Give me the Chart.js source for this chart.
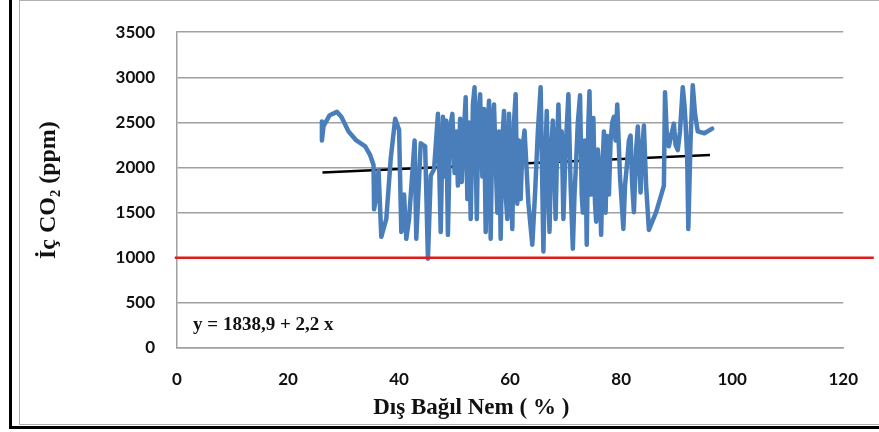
<!DOCTYPE html>
<html>
<head>
<meta charset="utf-8">
<script src="https://cdn.jsdelivr.net/npm/chart.js@4/dist/chart.umd.min.js"></script>
<style>
  html, body { margin: 0; padding: 0; background: #fff; }
  #wrap { position: relative; width: 879px; height: 432px; overflow: hidden; }
  #co2-chart { position: absolute; left: 0; top: 0; }
  .frame-gray { position: absolute; left: 19px; top: 0; width: 900px; height: 423px;
    border-left: 1px solid #b0b0b0; border-top: 1px solid #b0b0b0; border-bottom: 1px solid #b0b0b0; }
  .frame-black { position: absolute; left: 9px; top: -5px; width: 900px; height: 431px;
    border-left: 3px solid #000; border-bottom: 3px solid #000; }
</style>
</head>
<body>
<div id="wrap">
  <canvas id="co2-chart" width="879" height="432"></canvas>
  <div class="frame-gray"></div>
  <div class="frame-black"></div>
</div>
<script>
// dış bağıl nem (%) and iç CO2 (ppm) (same order, 10 per row)
const humidity = [
  26.1, 26.1, 26.4, 27.5, 28.8, 29.6, 30.9, 32.3, 33.9, 34.8,
  35.4, 35.5, 36.0, 36.3, 36.8, 37.7, 38.5, 39.3, 40.0, 40.4,
  40.9, 41.3, 41.8, 42.8, 43.1, 43.9, 44.7, 45.2, 45.7, 46.3,
  47.0, 47.5, 47.9, 48.2, 48.5, 48.8, 49.2, 49.6, 50.0, 50.3,
  50.6, 51.0, 51.3, 51.6, 52.0, 52.3, 52.6, 52.9, 53.3, 53.6,
  54.0, 54.3, 54.6, 55.0, 55.3, 55.6, 56.0, 56.2, 56.5, 56.8,
  57.1, 57.4, 57.7, 58.0, 58.3, 58.6, 58.9, 59.2, 59.5, 59.8,
  60.1, 60.4, 60.7, 61.0, 61.3, 61.6, 61.9, 62.2, 62.6, 63.3,
  64.0, 64.5, 65.0, 65.5, 66.0, 66.3, 66.6, 66.9, 67.1, 67.4,
  67.7, 68.0, 68.2, 68.5, 68.7, 69.0, 69.3, 69.6, 70.0, 70.5,
  70.9, 71.3, 71.6, 71.9, 72.2, 72.6, 72.9, 73.1, 73.4, 73.6,
  73.8, 74.1, 74.3, 74.6, 74.8, 75.0, 75.3, 75.5, 75.8, 76.1,
  76.4, 76.7, 76.9, 77.2, 77.5, 77.8, 78.1, 78.4, 78.7, 79.0,
  79.3, 79.8, 80.4, 80.7, 81.0, 81.4, 81.7, 82.0, 82.3, 82.7,
  83.0, 83.3, 83.5, 83.8, 84.1, 84.5, 85.0, 85.6, 86.3, 87.0,
  87.7, 87.9, 88.2, 88.6, 89.0, 89.5, 89.8, 90.2, 90.6, 91.1,
  91.4, 91.6, 91.9, 92.1, 92.5, 92.9, 93.3, 93.8, 95.0, 96.4
];
const co2 = [
  2510, 2300, 2460, 2580, 2617, 2563, 2400, 2300, 2235, 2137,
  2028, 1537, 1720, 1970, 1232, 1430, 2100, 2540, 2420, 1287,
  1700, 1210, 1430, 2300, 1210, 2268, 2235, 990, 1908, 1980,
  2595, 1287, 2563, 1900, 2520, 1254, 2450, 2595, 1940, 2400,
  1800, 2540, 1840, 2300, 2780, 1650, 2500, 1430, 2700, 2890,
  1430, 2600, 2813, 1900, 2650, 1287, 2500, 2740, 1210, 2450,
  2700, 2083, 1500, 2400, 1210, 2300, 2628, 1700, 1430, 2595,
  1900, 1320, 2500, 2813, 1600, 2300, 1650, 2200, 2410, 1600,
  1145, 1723, 2400, 2890, 1069, 2000, 2628, 1700, 1287, 2200,
  2520, 1900, 1430, 2300, 2700, 2083, 2400, 1430, 2200, 2813,
  1800, 1100, 1700, 2080, 2500, 2800, 1700, 1500, 2300, 2100,
  1145, 2500, 2846, 1700, 2100, 2550, 1600, 1400, 2200, 1900,
  1254, 2100, 2400, 1500, 2350, 1700, 2300, 2500, 2563, 2300,
  2700, 1900, 1320, 1800, 2000, 2300, 2355, 1800, 1505, 2200,
  2454, 2000, 1723, 2200, 2465, 1800, 1309, 1400, 1505, 1650,
  1800, 2835, 2400, 2235, 2350, 2487, 2250, 2192, 2400, 2890,
  2700, 2500, 2100, 1320, 2300, 2912, 2600, 2400, 2380, 2432
];
// regression line as drawn, and the 1000 ppm limit
const trendX = [26.2, 96];
const trendY = [1945, 2140];
const limitX = [-0.4, 125.5];
const limitY = [1000, 1000];
const equation = 'y = 1838,9 + 2,2 x';
const xTitle = 'Dış Bağıl Nem ( % )';

const xTicks = [0, 20, 40, 60, 80, 100, 120];
const yTicks = [0, 500, 1000, 1500, 2000, 2500, 3000, 3500];

const toPoints = (xs, ys) => xs.map((x, i) => ({ x: x, y: ys[i] }));

// equation text and the (off-centre) x axis title
const extraText = {
  id: 'extraText',
  afterDraw(chart) {
    const { ctx, scales } = chart;
    ctx.save();
    ctx.fillStyle = '#111';
    ctx.textBaseline = 'middle';
    ctx.font = 'bold 19px "Liberation Serif", "DejaVu Serif", serif';
    ctx.textAlign = 'left';
    ctx.fillText(equation, scales.x.getPixelForValue(2.9), scales.y.getPixelForValue(250));
    ctx.font = 'bold 23px "Liberation Serif", "DejaVu Serif", serif';
    ctx.textAlign = 'center';
    ctx.fillText(xTitle, scales.x.getPixelForValue(53), scales.x.bottom - 24);
    ctx.restore();
  }
};

const ctx = document.getElementById('co2-chart');
new Chart(ctx, {
  type: 'scatter',
  data: {
    datasets: [
      { data: toPoints(limitX, limitY), showLine: true, borderColor: '#e01b1b', borderWidth: 2.5,
        pointRadius: 0, clip: false },
      { data: toPoints(humidity, co2), showLine: true, borderColor: '#4a7ebb', borderWidth: 4.5,
        pointRadius: 0, borderJoinStyle: 'round', borderCapStyle: 'round' },
      { data: toPoints(trendX, trendY), showLine: true, borderColor: '#000', borderWidth: 2.5,
        pointRadius: 0 }
    ]
  },
  options: {
    responsive: false,
    animation: false,
    layout: { padding: { top: 27, right: 28, left: 28, bottom: 0 } },
    plugins: { legend: { display: false }, tooltip: { enabled: false } },
    scales: {
      x: {
        type: 'linear', min: 0, max: 120,
        afterBuildTicks: (axis) => { axis.ticks = xTicks.map(v => ({ value: v })); },
        afterFit: (axis) => { axis.height = 84; },
        grid: { display: false, drawTicks: false },
        border: { color: '#a0a0a0', width: 1.5 },
        ticks: { color: '#111', padding: 21, callback: (v) => String(v),
          font: { family: 'Lato', weight: 'bold', size: 17 } }
      },
      y: {
        type: 'linear', min: 0, max: 3500,
        afterBuildTicks: (axis) => { axis.ticks = yTicks.map(v => ({ value: v })); },
        afterFit: (axis) => { axis.width = 149; },
        grid: { color: '#a0a0a0', lineWidth: 1.5, drawTicks: false },
        border: { color: '#a0a0a0', width: 1.5 },
        ticks: { color: '#111', padding: 22, callback: (v) => String(v),
          font: { family: 'Lato', weight: 'bold', size: 17 } },
        title: { display: true, text: 'İç CO₂ (ppm)', color: '#111', padding: { top: 6, bottom: 0 },
          font: { family: '"Liberation Serif", "DejaVu Serif", serif', weight: 'bold', size: 24 } }
      }
    }
  },
  plugins: [extraText]
});
</script>
</body>
</html>
